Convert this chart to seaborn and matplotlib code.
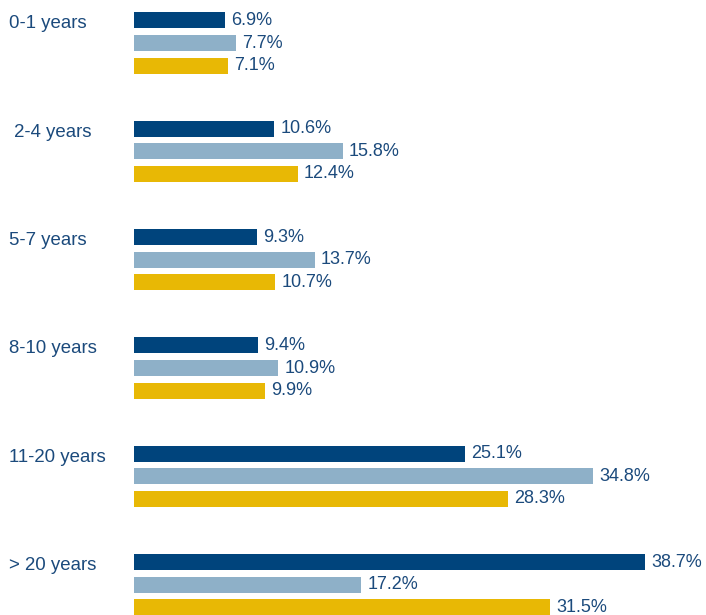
import matplotlib
matplotlib.use("Agg")
import matplotlib.pyplot as plt
import matplotlib.transforms as mtransforms
import pandas as pd
import seaborn as sns

# Tenure bands and the share (%) for each of the three series
categories = ["0-1 years", " 2-4 years", "5-7 years", "8-10 years", "11-20 years", "> 20 years"]
series_names = ["Series 1", "Series 2", "Series 3"]
series_1 = [6.9, 10.6, 9.3, 9.4, 25.1, 38.7]
series_2 = [7.7, 15.8, 13.7, 10.9, 34.8, 17.2]
series_3 = [7.1, 12.4, 10.7, 9.9, 28.3, 31.5]

colors = ["#00447c", "#8eb0c8", "#e8b805"]
text_color = "#1b4a7c"

rows = []
for name, vals in zip(series_names, [series_1, series_2, series_3]):
    for cat, v in zip(categories, vals):
        rows.append({"band": cat, "series": name, "value": v})
df = pd.DataFrame(rows)

sns.set_theme(style="white")
plt.rcParams["font.family"] = ["Liberation Sans", "DejaVu Sans"]

fig = plt.figure(figsize=(7.06, 6.15), dpi=100)
ax = fig.add_axes([0, 0, 1, 1])

sns.barplot(
    data=df, x="value", y="band", hue="series",
    order=categories, hue_order=series_names,
    palette=colors, orient="h", width=0.625, gap=0.29,
    saturation=1, legend=False, linewidth=0, ax=ax,
)

for container in ax.containers:
    vals = [bar.get_width() for bar in container]
    ax.bar_label(container, labels=[f"{v:.1f}%" for v in vals],
                 padding=4.5, fontsize=13, color=text_color)

# Band names sit at the left, level with the first bar of each group
slot = 0.625 / 3
trans = mtransforms.blended_transform_factory(ax.transAxes, ax.transData)
for i, cat in enumerate(categories):
    ax.text(9 / 706, i - slot + 0.03, cat, transform=trans, ha="left", va="center",
            fontsize=13.4, color=text_color)

ax.set_xlim(-134 / 13.2, (706 - 134) / 13.2)
ax.set_ylim(5.28, -0.397)
ax.set_axis_off()

fig.savefig("out.png", dpi=100, facecolor="white")
